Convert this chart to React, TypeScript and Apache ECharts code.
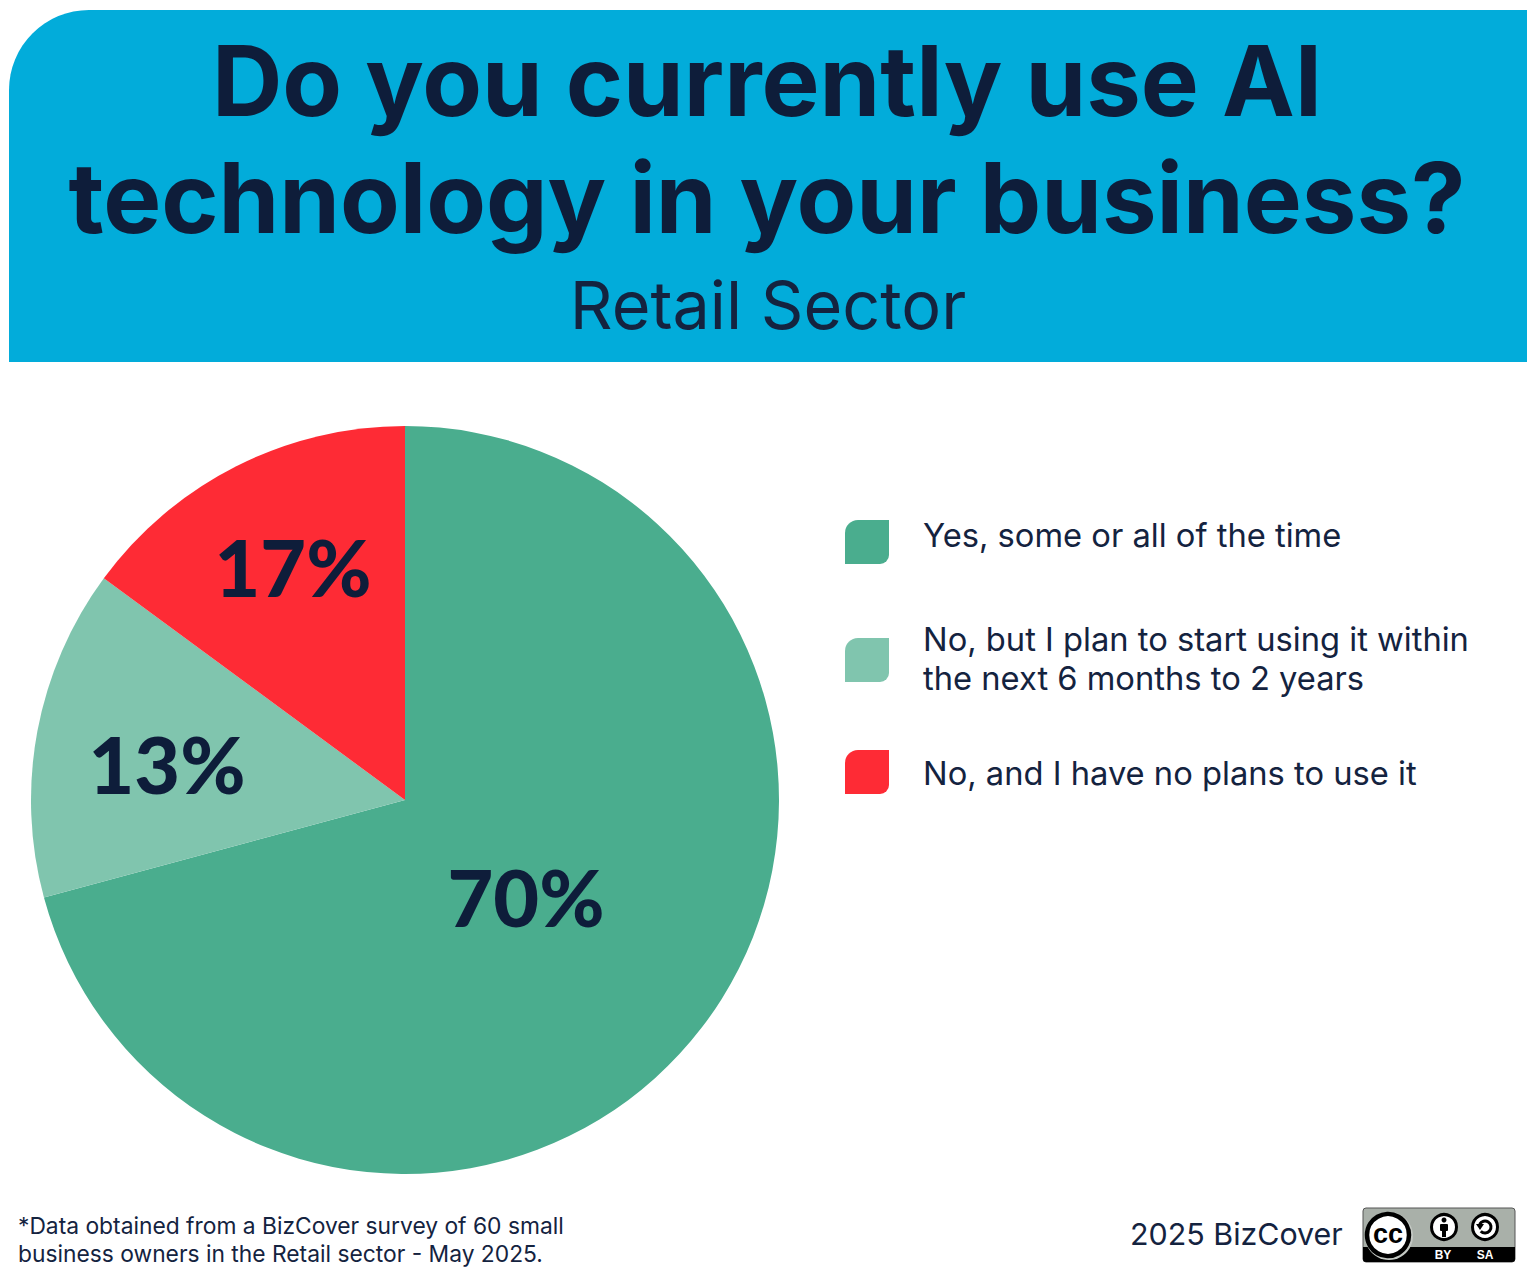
import React, { useEffect, useRef } from "react";
import * as echarts from "echarts";

const titleLines = ["Do you currently use AI", "technology in your business?"];
const subtitle = "Retail Sector";
const categories = [
  "Yes, some or all of the time",
  "No, but I plan to start using it within\nthe next 6 months to 2 years",
  "No, and I have no plans to use it",
];
// Percentages printed on the slices in the source.
const printedPercent = ["70%", "13%", "17%"];
// Slice sizes as actually drawn in the source (they differ slightly from the printed numbers).
const drawnShare = [70.8, 14.3, 14.9];
const colors = ["#4aad8e", "#80c5ae", "#fe2b35"];
const footnote = "*Data obtained from a BizCover survey of 60 small\nbusiness owners in the Retail sector - May 2025.";
const credit = "2025 BizCover";

const INK = "#0e1d3a";
const SOFT_INK = "#14233f";
const FONT = "Inter, 'Noto Sans', sans-serif";

export default function App() {
  const ref = useRef<HTMLDivElement>(null);
  useEffect(() => {
    document.body.style.margin = "0";
    const chart = echarts.init(ref.current!, undefined, { renderer: "svg" });
    const labelSpots = [
      [526, 896],
      [167, 763],
      [293, 566],
    ];
    const legendY = [520, 638, 750];
    const legendTextY = [535, 658, 773];
    chart.setOption({
      animation: false,
      backgroundColor: "#ffffff",
      title: [
        {
          text: titleLines.join("\n"),
          left: 767,
          top: 22,
          padding: 0,
          textAlign: "center",
          textStyle: { fontFamily: FONT, fontWeight: 700, fontSize: 97.5, lineHeight: 117, color: INK },
        },
        {
          text: subtitle,
          left: 768,
          top: 266,
          padding: 0,
          textAlign: "center",
          textStyle: { fontFamily: FONT, fontWeight: 400, fontSize: 66.5, lineHeight: 78, color: SOFT_INK },
        },
        {
          text: footnote,
          left: 18,
          top: 1212,
          padding: 0,
          textStyle: { fontFamily: FONT, fontWeight: 400, fontSize: 22.8, lineHeight: 27.5, color: SOFT_INK },
        },
        {
          text: credit,
          left: 1130,
          top: 1215,
          padding: 0,
          textStyle: { fontFamily: FONT, fontWeight: 400, fontSize: 30.4, lineHeight: 38, color: SOFT_INK },
        },
      ],
      graphic: [
        {
          type: "rect",
          z: 0,
          shape: { x: 9, y: 10, width: 1518, height: 352, r: [80, 0, 0, 0] },
          style: { fill: "#02acda" },
        },
        ...categories.flatMap((c, i) => [
          {
            type: "rect",
            z: 3,
            shape: { x: 845, y: legendY[i], width: 44, height: 44, r: [13, 0, 9, 0] },
            style: { fill: colors[i] },
          },
          {
            type: "text",
            z: 3,
            x: 923,
            y: legendTextY[i],
            style: {
              text: c,
              fontFamily: FONT,
              fontSize: 32.7,
              lineHeight: 39,
              fill: SOFT_INK,
              verticalAlign: "middle",
              textVerticalAlign: "middle",
            },
          },
        ]),
        // CC BY-SA badge
        {
          type: "group",
          z: 3,
          children: [
            { type: "rect", shape: { x: 1363, y: 1208, width: 152, height: 54, r: 3 }, style: { fill: "#a9b0a9", stroke: "#555", lineWidth: 1 } },
            { type: "rect", shape: { x: 1363, y: 1247, width: 152, height: 15, r: [0, 0, 3, 3] }, style: { fill: "#000" } },
            { type: "circle", shape: { cx: 1389, cy: 1236, r: 24 }, style: { fill: "#c4c9c4" } },
            { type: "circle", shape: { cx: 1388, cy: 1235, r: 21 }, style: { fill: "#fff", stroke: "#000", lineWidth: 4.5 } },
            { type: "text", x: 1388, y: 1234, style: { text: "cc", fontFamily: "'Liberation Sans', sans-serif", fontWeight: 700, fontSize: 27, fill: "#000", align: "center", verticalAlign: "middle" } },
            { type: "circle", shape: { cx: 1444, cy: 1227, r: 12.5 }, style: { fill: "#fff", stroke: "#000", lineWidth: 3 } },
            { type: "circle", shape: { cx: 1444, cy: 1220, r: 2.5 }, style: { fill: "#000" } },
            { type: "rect", shape: { x: 1440, y: 1224, width: 8, height: 7, r: 1 }, style: { fill: "#000" } },
            { type: "rect", shape: { x: 1442, y: 1230, width: 4, height: 7 }, style: { fill: "#000" } },
            { type: "circle", shape: { cx: 1485, cy: 1227, r: 12.5 }, style: { fill: "#fff", stroke: "#000", lineWidth: 3 } },
            { type: "arc", shape: { cx: 1485, cy: 1227, r: 6, startAngle: -Math.PI * 0.85, endAngle: Math.PI * 0.75, clockwise: true }, style: { stroke: "#000", fill: "none", lineWidth: 3 } },
            { type: "polygon", shape: { points: [[1476, 1224], [1484, 1224], [1480, 1230]] }, style: { fill: "#000" } },
            { type: "text", x: 1443, y: 1255, style: { text: "BY", fontFamily: "'Liberation Sans', sans-serif", fontWeight: 700, fontSize: 12, fill: "#fff", align: "center", verticalAlign: "middle" } },
            { type: "text", x: 1485, y: 1255, style: { text: "SA", fontFamily: "'Liberation Sans', sans-serif", fontWeight: 700, fontSize: 12, fill: "#fff", align: "center", verticalAlign: "middle" } },
          ],
        },
      ],
      series: [
        {
          type: "pie",
          center: [405, 800],
          radius: [0, 374],
          startAngle: 90,
          clockwise: true,
          silent: true,
          data: categories.map((c, i) => ({
            name: c,
            value: drawnShare[i],
            itemStyle: { color: colors[i] },
          })),
          label: {
            show: true,
            position: "inside",
            formatter: (p: any) => printedPercent[p.dataIndex],
            fontFamily: "Lato, Inter, sans-serif",
            fontWeight: 900,
            fontSize: 79,
            color: INK,
          },
          labelLine: { show: false },
          labelLayout: (p: any) => ({
            x: labelSpots[p.dataIndex][0],
            y: labelSpots[p.dataIndex][1],
            align: "center",
            verticalAlign: "middle",
          }),
        },
      ],
    });
    return () => chart.dispose();
  }, []);
  return <div ref={ref} style={{ position: "absolute", left: 0, top: 0, width: 1536, height: 1281 }} />;
}
